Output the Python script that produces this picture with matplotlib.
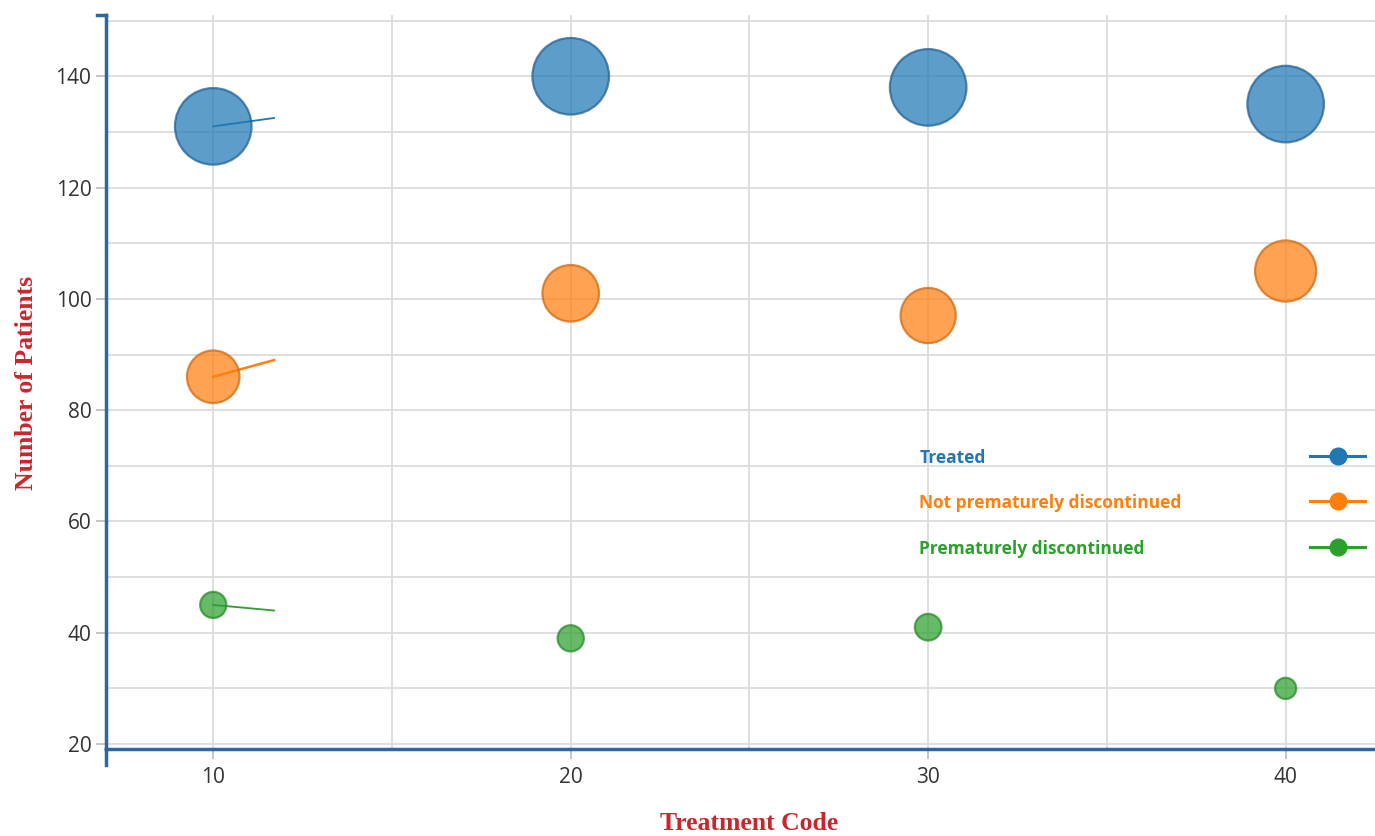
import numpy as np
import matplotlib.pyplot as plt
from matplotlib.lines import Line2D

# data
treatment_codes = [10, 20, 30, 40]
treated = [131, 140, 138, 135]
not_discontinued = [86, 101, 97, 105]
discontinued = [45, 39, 41, 30]

# bubble radii as measured on the reference (pixels)
treated_r = [39, 39, 39, 39]
not_discontinued_r = [27, 29, 28.3, 31.3]
discontinued_r = [13.8, 13.8, 14, 11.3]

series_names = ["Treated", "Not prematurely discontinued", "Prematurely discontinued"]
series_values = [treated, not_discontinued, discontinued]
series_radii = [treated_r, not_discontinued_r, discontinued_r]

# short line stubs starting at the first point (partially drawn connector)
stub_end_x = 11.7
stub_end_y = [132.5, 89, 44]

colors = ["#1f77b4", "#ff7f0e", "#2ca02c"]
edge_colors = ["#1f5e94", "#d0660c", "#248a24"]


def bubble_size(r_px):
    # radius in px -> marker area in points^2 (dpi=100), edge included
    d_pt = 2 * (np.asarray(r_px) - 0.7) * 0.72
    return d_pt ** 2


fig = plt.figure(figsize=(13.75, 8.36), dpi=100)
ax = fig.add_axes([0.0771, 0.104, 0.9229, 0.878])

ax.set_xlim(7.0, 42.5)
ax.set_ylim(19.1, 151.0)

# grid
ax.set_xticks([10, 20, 30, 40])
ax.set_xticks([15, 25, 35], minor=True)
ax.set_yticks(np.arange(20, 141, 20))
ax.set_yticks(np.arange(30, 151, 20), minor=True)
ax.grid(True, which="both", color="#dcdcdc", linewidth=1.3)
ax.set_axisbelow(True)

for i in range(3):
    vals = series_values[i]
    ax.plot([treatment_codes[0], stub_end_x], [vals[0], stub_end_y[i]],
            color=colors[i], linewidth=1.8 if i == 1 else 1.3, zorder=2)
    ax.scatter(treatment_codes, vals, s=bubble_size(series_radii[i]), color=colors[i],
               alpha=0.72, edgecolors=edge_colors[i], linewidths=1.6, zorder=3)

# spines
for side in ["top", "right"]:
    ax.spines[side].set_visible(False)
for side in ["left", "bottom"]:
    ax.spines[side].set_color("#2f66a0")
    ax.spines[side].set_linewidth(2.5)

ax.tick_params(axis="both", which="major", color="#bbbbbb", length=7,
               labelsize=15, labelcolor="#333333", width=1.2)
ax.tick_params(axis="x", which="major", pad=6)
ax.tick_params(axis="both", which="minor", length=0)
for lab in ax.get_xticklabels() + ax.get_yticklabels():
    lab.set_fontfamily("Open Sans")

# outer ticks of the domain paths
ax.plot([-0.007, 0], [1, 1], transform=ax.transAxes, color="#2f66a0",
        linewidth=2.5, clip_on=False)
ax.plot([0, 0], [0, -0.022], transform=ax.transAxes, color="#2f66a0",
        linewidth=2.5, clip_on=False)

# legend drawn inside the plot
legend_y = [0.396, 0.335, 0.272]
for i in range(3):
    ax.text(0.641, legend_y[i], series_names[i], transform=ax.transAxes,
            color=colors[i], fontsize=12.5, fontweight="bold", family="Open Sans",
            va="center", ha="left")
    ax.add_line(Line2D([0.949, 0.992], [legend_y[i] + 0.003] * 2,
                       transform=ax.transAxes, color=colors[i], linewidth=2.2,
                       clip_on=False))
    ax.plot([0.9705], [legend_y[i] + 0.003], transform=ax.transAxes,
            marker="o", markersize=12, color=colors[i], clip_on=False)

fig.text(0.0196, 0.542, "Number of Patients", rotation=90, color="#c8262c",
         fontsize=18.5, fontweight="bold", family="Liberation Serif",
         ha="center", va="center")
fig.text(0.545, 0.0155, "Treatment Code", color="#c8262c",
         fontsize=18.5, fontweight="bold", family="Liberation Serif",
         ha="center", va="center")

fig.savefig("out.png", dpi=100)
